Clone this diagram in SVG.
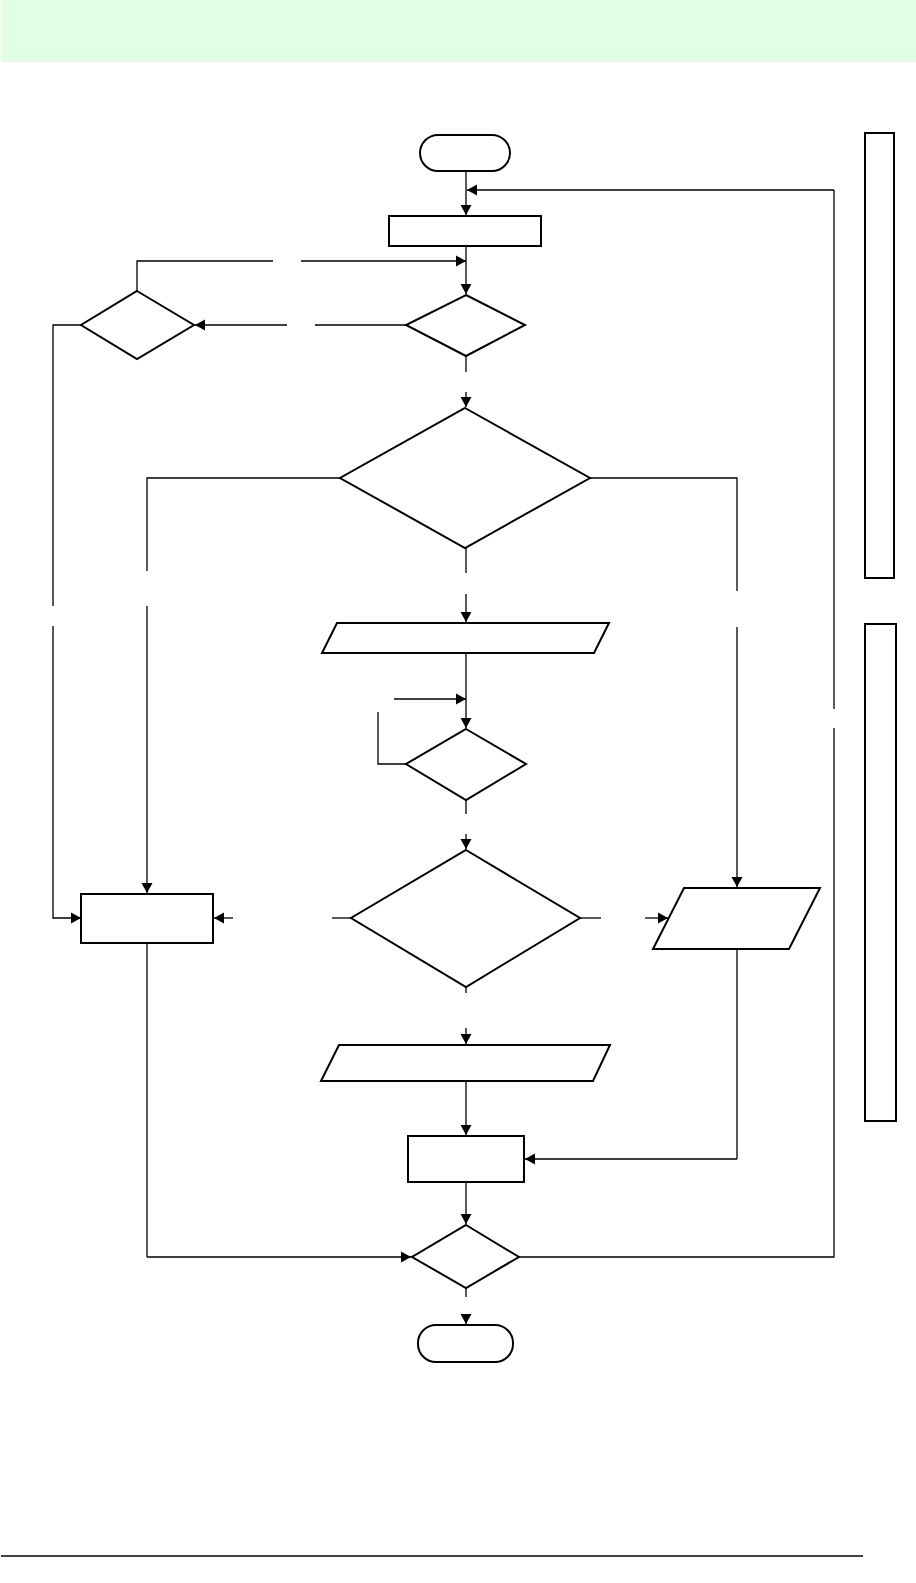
<svg xmlns="http://www.w3.org/2000/svg" width="916" height="1583" viewBox="0 0 916 1583">
<style>
.shape{fill:#fff;stroke:#000;stroke-width:2}
.c{fill:none;stroke:#000;stroke-width:1.3}
.a{fill:none;stroke:#000;stroke-width:1.3;marker-end:url(#ah)}
</style>
<defs>
<marker id="ah" markerUnits="userSpaceOnUse" markerWidth="14" markerHeight="14" viewBox="0 0 14 14" refX="12" refY="7" orient="auto">
<path d="M2,1.5 L12,7 L2,12.5 Z" fill="#000"/>
</marker>
</defs>
<rect x="1" y="0" width="915" height="62" fill="#e1ffe4"/>
<line x1="1" y1="1556" x2="863" y2="1556" stroke="#000" stroke-width="1.5"/>
<g id="start"><rect class="shape" x="420" y="135" width="90" height="36" rx="18"/></g>
<g id="init"><rect class="shape" x="389" y="216" width="152" height="30"/></g>
<g id="d1"><polygon class="shape" points="466,295 525,325 466,356 406,325"/></g>
<g id="d1b"><polygon class="shape" points="137,291 194,325 137,359 81,325"/></g>
<g id="d2"><polygon class="shape" points="465,408 590,478 465,548 340,478"/></g>
<g id="io1"><polygon class="shape" points="337,623 609,623 594,653 322,653"/></g>
<g id="d3"><polygon class="shape" points="466,729 526,764 466,800 406,764"/></g>
<g id="d4"><polygon class="shape" points="466,850 580,918 466,987 351,918"/></g>
<g id="procL"><rect class="shape" x="81" y="894" width="132" height="49"/></g>
<g id="ioR"><polygon class="shape" points="684,888 820,888 789,949 653,949"/></g>
<g id="io2"><polygon class="shape" points="339,1045 610,1045 593,1081 321,1081"/></g>
<g id="proc2"><rect class="shape" x="408" y="1136" width="116" height="46"/></g>
<g id="d5"><polygon class="shape" points="466,1225 519,1257 466,1288 412,1257"/></g>
<g id="end"><rect class="shape" x="418" y="1325" width="95" height="37" rx="18"/></g>
<g id="side1"><rect class="shape" x="865" y="133" width="29" height="445" stroke-width="1.5"/></g>
<g id="side2"><rect class="shape" x="865" y="624" width="31" height="497" stroke-width="1.5"/></g>
<g id="connectors">
<path class="a" d="M466,171 V215"/>
<path class="a" d="M834,190 H467"/>
<path class="a" d="M466,246 V294"/>
<path class="c" d="M137,291 V261 H273"/>
<path class="a" d="M301,261 H466"/>
<path class="c" d="M406,325 H315"/>
<path class="a" d="M287,325 H195"/>
<path class="c" d="M81,325 H53 V606"/>
<path class="a" d="M53,626 V918 H81"/>
<path class="c" d="M466,356 V372"/>
<path class="a" d="M466,392 V407"/>
<path class="c" d="M340,478 H147 V571"/>
<path class="a" d="M147,606 V893"/>
<path class="c" d="M590,478 H737 V591"/>
<path class="a" d="M737,627 V887"/>
<path class="c" d="M466,548 V573"/>
<path class="a" d="M466,594 V622"/>
<path class="a" d="M466,653 V728"/>
<path class="a" d="M394,699 H466"/>
<path class="c" d="M406,764 H378 V712"/>
<path class="c" d="M466,800 V814"/>
<path class="a" d="M466,834 V849"/>
<path class="c" d="M351,918 H332"/>
<path class="a" d="M233,918 H214"/>
<path class="c" d="M580,918 H601"/>
<path class="a" d="M645,918 H668"/>
<path class="c" d="M466,987 V993"/>
<path class="a" d="M466,1028 V1044"/>
<path class="a" d="M466,1081 V1135"/>
<path class="c" d="M737,949 V1159"/>
<path class="a" d="M737,1159 H525"/>
<path class="a" d="M466,1182 V1224"/>
<path class="c" d="M147,943 V1257"/>
<path class="a" d="M147,1257 H411"/>
<path class="c" d="M519,1257 H834 V728"/>
<path class="c" d="M834,709 V190"/>
<path class="c" d="M466,1288 V1297"/>
<path class="a" d="M466,1314 V1324"/>
</g>
</svg>
